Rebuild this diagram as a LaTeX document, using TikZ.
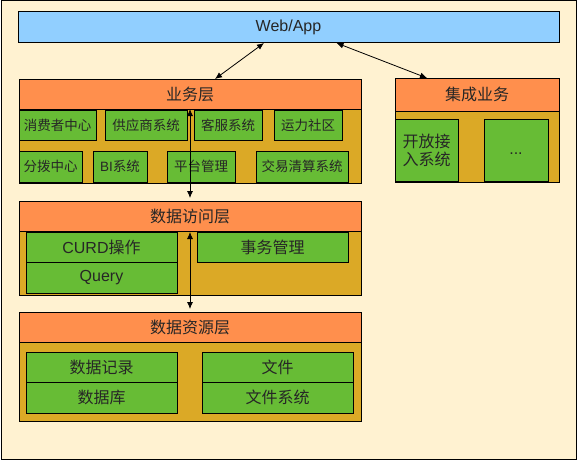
\documentclass[tikz,border=0pt]{standalone}
\usepackage{fontspec}
\setmainfont{Noto Sans CJK SC}
\newfontfamily\latinfont{Liberation Sans}
\usetikzlibrary{arrows.meta}
\definecolor{cream}{HTML}{FFF2D1}
\definecolor{skyblue}{HTML}{91CFFF}
\definecolor{layerorange}{HTML}{FF8F4D}
\definecolor{panegold}{HTML}{DBA926}
\definecolor{cellgreen}{HTML}{67BC35}
\tikzset{
	box/.style={draw, line width=1pt, inner sep=0pt, outer sep=0pt, text=black!85},
	layer/.style={box, fill=layerorange, font=\fontsize{16}{16}\selectfont},
	pane/.style={box, fill=panegold},
	cell/.style={box, fill=cellgreen, font=\fontsize{13.5}{13.5}\selectfont},
	bigcell/.style={box, fill=cellgreen, font=\fontsize{16}{16}\selectfont},
	link/.style={line width=0.8pt, {Latex[length=7pt,width=6pt]}-{Latex[length=7pt,width=6pt]}}
}

\begin{document}
\begin{tikzpicture}[x=1pt, y=-1pt]
	\useasboundingbox (0,0) rectangle (577,460);
	\draw [line width=1pt, fill=cream] (1,1) rectangle (576,459);

	\node [box, fill=skyblue, minimum width=541pt, minimum height=31pt,
		font=\fontsize{16}{16}\selectfont\latinfont] (web) at (288.5,27.5) {Web/App};

	\node [pane, minimum width=342pt, minimum height=74pt] (bizpane) at (190,146) {};
	\node [layer, minimum width=342pt, minimum height=30pt] (biz) at (190,94) {业务层};
	\foreach \x/\w/\t [count=\i] in {57.5/77/消费者中心, 146/82/供应商系统,
		228/68/客服系统, 308/68/运力社区}
	{\node [cell, minimum width=\w pt, minimum height=30pt] (bizup\i) at (\x,125) {\t};}
	\foreach \x/\w/\t [count=\i] in {50.5/63/分拨中心, 120/54/{{\latinfont BI}系统},
		201/68/平台管理, 302/92/交易清算系统}
	{\node [cell, minimum width=\w pt, minimum height=31pt] (bizlow\i) at (\x,166.5) {\t};}

	\node [pane, minimum width=164pt, minimum height=104pt] (intpane) at (477,130) {};
	\node [layer, minimum width=164pt, minimum height=33pt] (int) at (477,94.5) {集成业务};
	\node [bigcell, minimum width=63pt, minimum height=62pt, align=center]
		(open) at (426.5,150) {开放接\\[2pt]入系统};
	\node [bigcell, minimum width=64pt, minimum height=62pt, text height=11pt, text depth=3pt]
		(more) at (516,150) {\latinfont ...};

	\node [pane, minimum width=342pt, minimum height=64pt] (dapane) at (190,263) {};
	\node [layer, minimum width=342pt, minimum height=30pt] (da) at (190,216) {数据访问层};
	\node [bigcell, minimum width=151pt, minimum height=30pt] (curd) at (101.5,247) {{\latinfont CURD}操作};
	\node [bigcell, minimum width=151pt, minimum height=31pt] (query) at (101.5,277.5) {\latinfont Query};
	\node [bigcell, minimum width=151pt, minimum height=30pt] (trans) at (272.5,247) {事务管理};

	\node [pane, minimum width=342pt, minimum height=79pt] (drpane) at (190,381.5) {};
	\node [layer, minimum width=342pt, minimum height=30pt] (dr) at (190,327) {数据资源层};
	\node [bigcell, minimum width=151pt, minimum height=30pt] (rec) at (101.5,367) {数据记录};
	\node [bigcell, minimum width=151pt, minimum height=31pt] (db) at (101.5,397.5) {数据库};
	\node [bigcell, minimum width=151pt, minimum height=30pt] (file) at (277.5,367) {文件};
	\node [bigcell, minimum width=151pt, minimum height=31pt] (fs) at (277.5,397.5) {文件系统};

	\draw [link] ([xshift=-24.5pt]web.south) -- ([xshift=25pt]biz.north);
	\draw [link] ([xshift=48pt]web.south) -- ([xshift=-50pt]int.north);
	\draw [link, shorten >=3pt] (biz.south) -- (da.north);
	\draw [link, shorten <=1pt, shorten >=3pt] (da.south) -- (dr.north);
\end{tikzpicture}
\end{document}
